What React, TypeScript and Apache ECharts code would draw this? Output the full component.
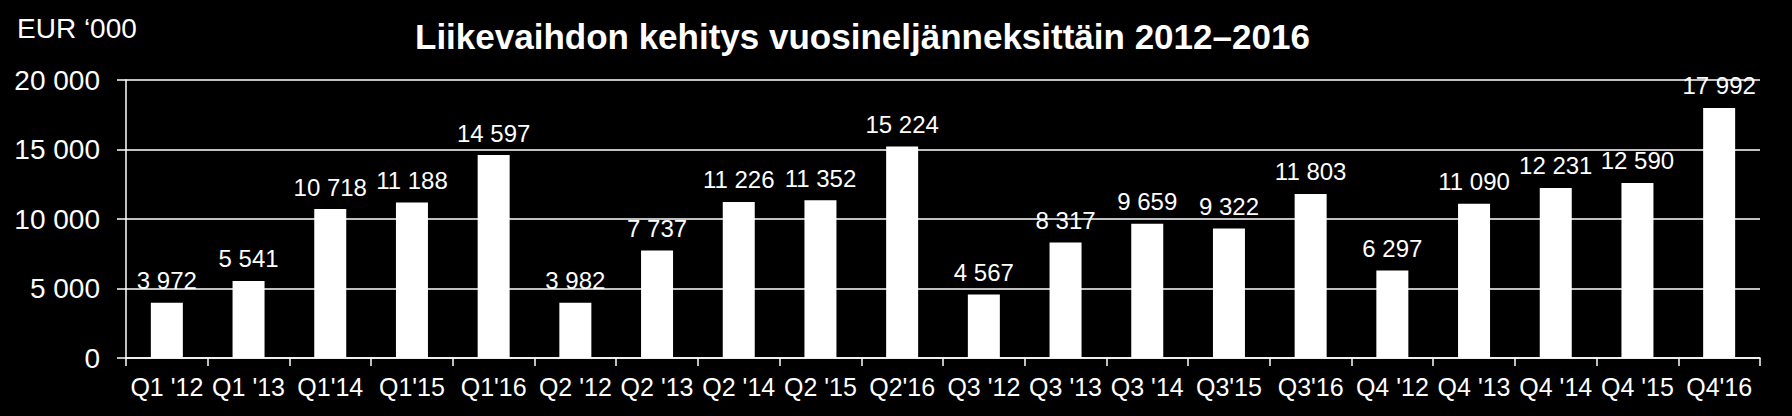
import React, { useEffect, useRef } from "react";
import * as echarts from "echarts";

const categories = [
  "Q1 '12", "Q1 '13", "Q1'14", "Q1'15", "Q1'16",
  "Q2 '12", "Q2 '13", "Q2 '14", "Q2 '15", "Q2'16",
  "Q3 '12", "Q3 '13", "Q3 '14", "Q3'15", "Q3'16",
  "Q4 '12", "Q4 '13", "Q4 '14", "Q4 '15", "Q4'16",
];
const revenue = [
  3972, 5541, 10718, 11188, 14597,
  3982, 7737, 11226, 11352, 15224,
  4567, 8317, 9659, 9322, 11803,
  6297, 11090, 12231, 12590, 17992,
];
const yTicks = [0, 5000, 10000, 15000, 20000];

const FONT = "'Liberation Sans', Arial, sans-serif";

// 12345 -> "12 345"
function fmt(v: number) {
  return String(v).replace(/\B(?=(\d{3})+(?!\d))/g, " ");
}

export default function App() {
  const chartRef = useRef<HTMLDivElement>(null);

  useEffect(() => {
    document.body.style.margin = "0";
    document.body.style.background = "#000";
    if (!chartRef.current) return;
    const chart = echarts.init(chartRef.current, undefined, { renderer: "svg" });
    chart.setOption({
      animation: false,
      backgroundColor: "#000",
      title: {
        text: "Liikevaihdon kehitys vuosineljänneksittäin 2012–2016",
        left: 415,
        top: 19,
        padding: 0,
        textStyle: { color: "#fff", fontFamily: FONT, fontSize: 35, fontWeight: "bold" },
      },
      graphic: [
        {
          type: "text",
          left: 17,
          top: 14,
          style: { text: "EUR ‘000", fill: "#fff", font: `28px ${FONT}` },
        },
      ],
      grid: { left: 126, right: 32, top: 80, bottom: 58, containLabel: false },
      xAxis: {
        type: "category",
        data: categories,
        axisLine: { lineStyle: { color: "#fff", width: 1.5 } },
        axisTick: { show: true, length: 8, lineStyle: { color: "#fff", width: 1.5 } },
        axisLabel: { color: "#fff", fontFamily: FONT, fontSize: 25, margin: 16, interval: 0 },
      },
      yAxis: {
        type: "value",
        min: yTicks[0],
        max: yTicks[yTicks.length - 1],
        interval: yTicks[1] - yTicks[0],
        axisLine: { show: true, lineStyle: { color: "#fff", width: 1.5 } },
        axisTick: { show: true, length: 9, lineStyle: { color: "#fff", width: 1.5 } },
        splitLine: { show: true, lineStyle: { color: "#fff", width: 1.5 } },
        axisLabel: {
          color: "#fff",
          fontFamily: FONT,
          fontSize: 28,
          margin: 26,
          formatter: (v: number) => fmt(v),
        },
      },
      series: [
        {
          type: "bar",
          data: revenue,
          barWidth: 32,
          itemStyle: { color: "#fff" },
          label: {
            show: true,
            position: "top",
            distance: 10,
            color: "#fff",
            fontFamily: FONT,
            fontSize: 24,
            formatter: (p: any) => fmt(p.value),
          },
        },
      ],
    });
    return () => chart.dispose();
  }, []);

  return <div ref={chartRef} style={{ width: 1792, height: 416 }} />;
}
